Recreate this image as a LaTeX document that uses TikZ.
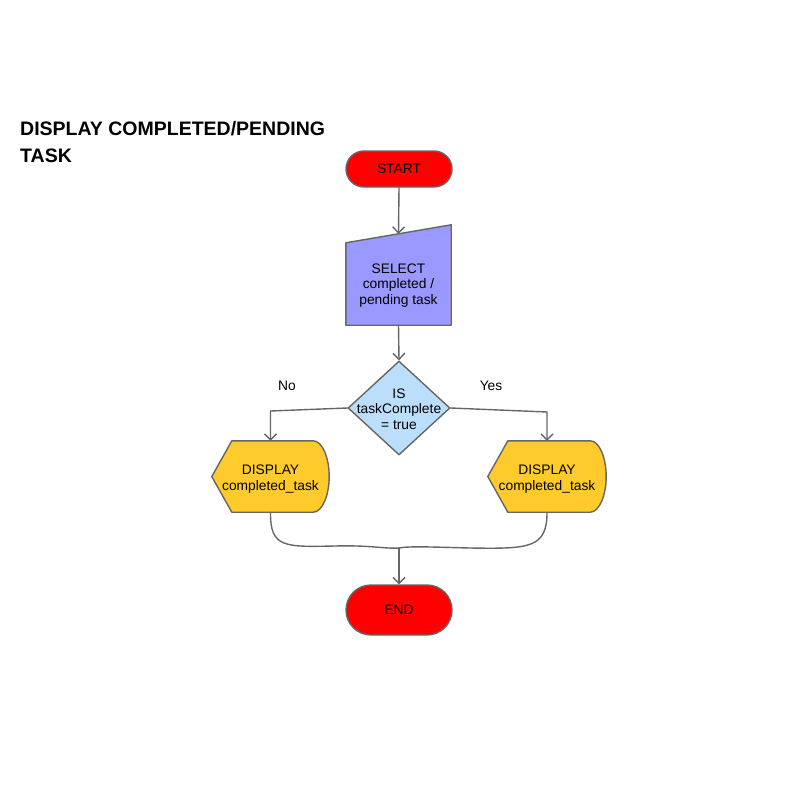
\documentclass[tikz,border=0pt]{standalone}
\usepackage{fontspec}
\setmainfont{Liberation Sans}
\usepackage{tikz}
\usetikzlibrary{arrows.meta, shapes.misc, shapes.geometric}
\usetikzlibrary{calc, backgrounds}
\definecolor{EdgeGray}{HTML}{666666}
\definecolor{TermRed}{HTML}{FF0000}
\definecolor{InputViolet}{HTML}{9999FF}
\definecolor{DecisionBlue}{HTML}{BBDEFB}
\definecolor{DisplayGold}{HTML}{FFCA2C}
\tikzset{
	txt/.style={font=\fontsize{13.8}{15.5}\selectfont, align=center, inner sep=0pt},
	terminal/.style={txt, rounded rectangle, draw=EdgeGray, fill=TermRed, line width=1.4pt, minimum width=106pt},
	inputbox/.style={inner sep=0pt, minimum width=105pt, minimum height=100pt},
	decision/.style={diamond, draw=EdgeGray, fill=DecisionBlue, line width=1.4pt, minimum width=102pt, minimum height=94pt, inner sep=0pt},
	displaybox/.style={inner sep=0pt, minimum height=71pt},
	outline/.style={draw=EdgeGray, line width=1.4pt, line join=round},
	line/.style={draw=EdgeGray, line width=1.4pt, line cap=round},
	flow/.style={line, -{Straight Barb[length=6pt, width=12pt, line width=1.4pt]}},
}

\begin{document}
\begin{tikzpicture}[x=1pt, y=-1pt]
	\useasboundingbox (0,0) rectangle (800,800);
	% title
	\node[anchor=north west, align=left, inner sep=0pt, font=\bfseries\fontsize{19.5}{27}\selectfont] (title) at (20,121) {DISPLAY COMPLETED/PENDING\\TASK};
	
	\node[terminal, minimum height=36pt] (start) at (399,169) {START};
	\node[inputbox] (sel) at (398.5,275) {};
	\node[txt] (selText) at (398.5,285.5) {SELECT\\completed /\\pending task};
	\node[decision] (dec) at (399,408) {};
	\node[txt] (decText) at (399,409) {IS\\taskComplete\\= true};
	\node[displaybox, minimum width=117pt] (dispL) at (270.5,476.5) {};
	\node[txt] (dispLText) at (270.5,479) {DISPLAY\\completed\_task};
	\node[displaybox, minimum width=118pt] (dispR) at (547,476.5) {};
	\node[txt] (dispRText) at (547,479) {DISPLAY\\completed\_task};
	\node[terminal, minimum height=50pt] (end) at (399,610) {END};
	
	\node[txt] (no) at (287,386) {No};
	\node[txt] (yes) at (491,386) {Yes};
	
	\begin{scope}[on background layer]
		\draw[outline, fill=InputViolet] (sel.south west) -- (sel.south east) -- (sel.north east) -- ([yshift=-18pt]sel.north west) -- cycle;
		\foreach \d in {dispL,dispR}
			\draw[outline, fill=DisplayGold] (\d.west) -- ([xshift=20pt]\d.north west) -- ([xshift=-16pt]\d.north east)
				.. controls ([xshift=-7pt]\d.north east) and ([yshift=19pt]\d.east) .. (\d.east)
				.. controls ([yshift=-19pt]\d.east) and ([xshift=-7pt]\d.south east) .. ([xshift=-16pt]\d.south east)
				-- ([xshift=20pt]\d.south west) -- cycle;
	\end{scope}
	
	\coordinate (selTop) at ([yshift=-9pt]sel.north);
	\coordinate (join) at (399,548);
	
	\draw[flow] (start.south) -- (selTop);
	\draw[flow] (sel.south) -- (dec.north);
	\draw[flow] (dec.west) -- ([yshift=-3pt]dec.west -| dispL.north) -- (dispL.north);
	\draw[flow] (dec.east) -- ([yshift=-4pt]dec.east -| dispR.north) -- (dispR.north);
	\draw[line] (dispL.south) .. controls (270,548) and (285,547) .. (335,546) .. controls (370,545) and (385,549) .. (join);
	\draw[line] (dispR.south) .. controls (547,548) and (530,549) .. (470,548) .. controls (430,547) and (410,546) .. (join);
	\draw[flow] (join) -- (end.north);
\end{tikzpicture}
\end{document}
